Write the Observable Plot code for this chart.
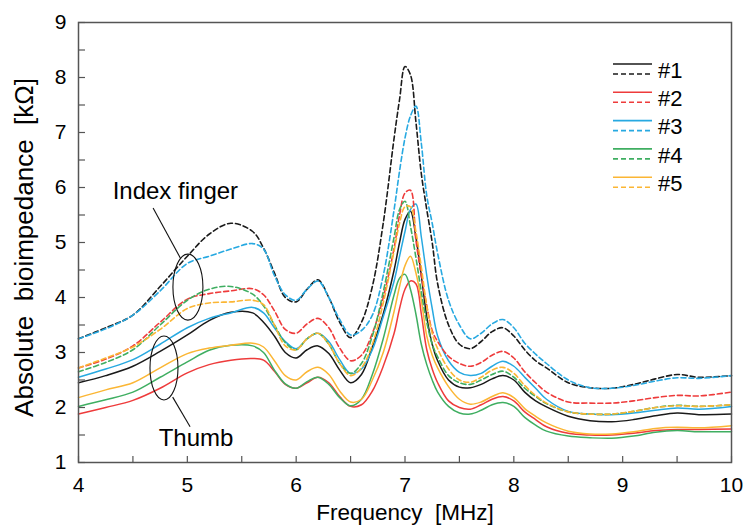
<!DOCTYPE html>
<html>
<head>
<meta charset="utf-8">
<script src="https://cdn.jsdelivr.net/npm/d3@7"></script>
<script src="https://cdn.jsdelivr.net/npm/@observablehq/plot@0.6"></script>
<style>
  html, body { margin: 0; padding: 0; background: #fff; }
  #chart { width: 743px; height: 532px; position: relative; }
  svg { font-family: "Liberation Sans", Arial, sans-serif; }
</style>
</head>
<body>
<div id="chart"></div>
<script>
// Frequency grid (MHz)
const freq = [4.0, 4.25, 4.5, 4.75, 5.0, 5.2, 5.4, 5.6, 5.7, 5.8, 5.9, 6.0, 6.1, 6.2, 6.3, 6.4, 6.5, 6.6, 6.7, 6.8, 6.9, 6.95, 7.0, 7.05, 7.1, 7.15, 7.2, 7.25, 7.3, 7.4, 7.5, 7.6, 7.7, 7.8, 7.9, 8.0, 8.1, 8.2, 8.3, 8.5, 8.7, 8.9, 9.1, 9.3, 9.5, 9.7, 10.0];

// Thumb (solid lines), kΩ
const thumb1 = [2.45, 2.58, 2.75, 3.02, 3.32, 3.58, 3.73, 3.72, 3.55, 3.3, 3.0, 2.9, 3.05, 3.12, 2.98, 2.68, 2.45, 2.6, 3.1, 3.7, 4.5, 5.0, 5.42, 5.57, 5.1, 4.4, 3.65, 3.15, 2.85, 2.5, 2.37, 2.36, 2.42, 2.52, 2.58, 2.5, 2.28, 2.12, 2.01, 1.84, 1.76, 1.74, 1.78, 1.85, 1.9, 1.87, 1.88];
const thumb2 = [1.88, 2.0, 2.13, 2.35, 2.63, 2.78, 2.86, 2.89, 2.86, 2.66, 2.42, 2.35, 2.45, 2.55, 2.45, 2.2, 2.02, 2.05, 2.3, 2.75, 3.35, 3.8, 4.15, 4.3, 4.25, 3.7, 3.05, 2.7, 2.45, 2.12, 2.0, 1.97, 2.05, 2.15, 2.2, 2.12, 1.92, 1.78, 1.65, 1.53, 1.5, 1.5, 1.53, 1.58, 1.6, 1.6, 1.61];
const thumb3 = [2.55, 2.7, 2.87, 3.15, 3.45, 3.62, 3.72, 3.82, 3.72, 3.45, 3.2, 3.07, 3.25, 3.35, 3.2, 2.87, 2.62, 2.7, 3.05, 3.65, 4.3, 4.75, 5.2, 5.6, 5.7, 5.1, 4.4, 3.8, 3.3, 2.85, 2.64, 2.58, 2.62, 2.75, 2.84, 2.75, 2.55, 2.35, 2.15, 1.93, 1.88, 1.87, 1.9, 1.95, 1.99, 1.97, 2.02];
const thumb4 = [2.02, 2.14, 2.28, 2.55, 2.83, 3.04, 3.13, 3.12, 3.0, 2.68, 2.43, 2.35, 2.47, 2.55, 2.42, 2.18, 2.03, 2.15, 2.6, 3.25, 4.05, 4.35, 4.42, 4.15, 3.7, 3.15, 2.78, 2.5, 2.28, 2.02, 1.9, 1.88, 1.95, 2.05, 2.09, 2.02, 1.82, 1.68, 1.57, 1.48, 1.45, 1.44, 1.48, 1.55, 1.58, 1.56, 1.56];
const thumb5 = [2.18, 2.32, 2.45, 2.72, 2.98, 3.08, 3.13, 3.17, 3.1, 2.85, 2.58, 2.5, 2.65, 2.73, 2.6, 2.3, 2.1, 2.15, 2.5, 3.0, 3.75, 4.2, 4.58, 4.75, 4.45, 3.95, 3.3, 2.95, 2.72, 2.38, 2.15, 2.06, 2.1, 2.2, 2.27, 2.18, 1.98, 1.84, 1.72, 1.57, 1.52, 1.52, 1.56, 1.62, 1.64, 1.63, 1.67];

// Index finger (dashed lines), kΩ
const index1 = [3.25, 3.45, 3.68, 4.2, 4.75, 5.15, 5.35, 5.2, 4.9, 4.45, 4.0, 3.92, 4.15, 4.32, 4.0, 3.55, 3.27, 3.55, 4.2, 5.35, 6.9, 7.6, 8.2, 8.05, 7.2, 6.25, 5.6, 5.0, 4.25, 3.5, 3.15, 3.07, 3.2, 3.38, 3.45, 3.3, 3.05, 2.85, 2.72, 2.45, 2.36, 2.35, 2.42, 2.52, 2.6, 2.55, 2.58];
const index2 = [2.72, 2.88, 3.12, 3.55, 3.97, 4.07, 4.12, 4.16, 4.05, 3.76, 3.42, 3.35, 3.52, 3.62, 3.45, 3.08, 2.85, 2.95, 3.35, 4.0, 4.9, 5.5, 5.9, 5.95, 5.05, 4.4, 3.85, 3.4, 3.2, 2.93, 2.8, 2.75, 2.82, 2.95, 3.02, 2.9, 2.65, 2.45, 2.28, 2.1, 2.08, 2.08, 2.12, 2.18, 2.22, 2.21, 2.28];
const index3 = [3.25, 3.43, 3.68, 4.12, 4.62, 4.75, 4.88, 4.98, 4.88, 4.4, 4.05, 3.95, 4.15, 4.3, 4.0, 3.6, 3.32, 3.4, 3.68, 4.4, 5.6, 6.3, 6.9, 7.3, 7.48, 6.8, 5.85, 5.35, 4.8, 3.95, 3.5, 3.25, 3.35, 3.52, 3.6, 3.45, 3.17, 2.97, 2.8, 2.5, 2.36, 2.35, 2.4, 2.48, 2.54, 2.53, 2.58];
const index4 = [2.65, 2.82, 3.05, 3.5, 3.95, 4.15, 4.2, 4.06, 3.85, 3.5, 3.18, 3.05, 3.25, 3.35, 3.15, 2.8, 2.62, 2.8, 3.3, 4.1, 5.1, 5.6, 5.75, 5.3, 4.73, 4.1, 3.55, 3.15, 2.92, 2.58, 2.45, 2.42, 2.5, 2.6, 2.66, 2.55, 2.35, 2.2, 2.07, 1.92, 1.88, 1.88, 1.93, 2.0, 2.04, 2.02, 2.05];
const index5 = [2.72, 2.9, 3.1, 3.42, 3.8, 3.9, 3.92, 3.95, 3.87, 3.5, 3.12, 3.05, 3.25, 3.35, 3.15, 2.8, 2.58, 2.72, 3.15, 3.9, 4.85, 5.35, 5.65, 5.65, 5.2, 4.55, 3.85, 3.35, 3.07, 2.7, 2.5, 2.46, 2.55, 2.68, 2.73, 2.62, 2.4, 2.22, 2.08, 1.92, 1.88, 1.88, 1.93, 2.0, 2.03, 2.02, 2.05];

const subjects = ["#1", "#2", "#3", "#4", "#5"];
const colors = ["#1a1a1a", "#ee3b3b", "#27a9e1", "#3fae61", "#fbb634"];
const thumbSeries = [thumb1, thumb2, thumb3, thumb4, thumb5];
const indexSeries = [index1, index2, index3, index4, index5];

const xTickValues = d3.range(4, 10.001, 0.5);
const yTickValues = d3.range(1, 9.001, 0.5);
const xLabels = [4, 5, 6, 7, 8, 9, 10];
const yLabels = [1, 2, 3, 4, 5, 6, 7, 8, 9];

// Build the long table
const rows = [];
subjects.forEach((s, i) => {
  freq.forEach((f, j) => rows.push({subject: s, finger: "Thumb", f, z: thumbSeries[i][j]}));
  freq.forEach((f, j) => rows.push({subject: s, finger: "Index finger", f, z: indexSeries[i][j]}));
});

const W = 743, H = 532;
const mL = 78, mR = 12, mT = 22, mB = 70;
const plotW = W - mL - mR, plotH = H - mT - mB;

// Annotation overlay (ellipses, leader lines), positioned through the scales
function annotations(index, scales) {
  const g = d3.create("svg:g").attr("fill", "none").attr("stroke", "#111").attr("stroke-width", 1.1);
  const ell = [
    {cx: 5.01, cy: 4.18, rx: 15, ry: 33},
    {cx: 4.79, cy: 2.71, rx: 14, ry: 32}
  ];
  ell.forEach(e => g.append("ellipse")
    .attr("cx", scales.x(e.cx)).attr("cy", scales.y(e.cy))
    .attr("rx", e.rx).attr("ry", e.ry));
  const links = [
    [4.69, 5.62, 4.94, 4.71],
    [4.87, 2.18, 5.03, 1.64]
  ];
  links.forEach(l => g.append("line")
    .attr("x1", scales.x(l[0])).attr("y1", scales.y(l[1]))
    .attr("x2", scales.x(l[2])).attr("y2", scales.y(l[3])));
  return g.node();
}

function legend(index, scales, values, dims) {
  const g = d3.create("svg:g").attr("text-anchor", "start");
  const x0 = dims.width - 130, x1 = x0 + 39, y0 = 64, step = 28.3;
  subjects.forEach((s, i) => {
    const y = y0 + i * step;
    g.append("line").attr("x1", x0).attr("x2", x1).attr("y1", y).attr("y2", y)
      .attr("stroke", colors[i]).attr("stroke-width", 1.6);
    g.append("line").attr("x1", x0).attr("x2", x1).attr("y1", y + 10).attr("y2", y + 10)
      .attr("stroke", colors[i]).attr("stroke-width", 1.6).attr("stroke-dasharray", "5,3");
    g.append("text").attr("x", x1 + 6).attr("y", y + 6).attr("dy", "0.35em")
      .attr("font-size", 22).attr("fill", "#000").attr("text-anchor", "start").text(s);
  });
  return g.node();
}

const chart = Plot.plot({
  width: W,
  height: H,
  marginLeft: mL, marginRight: mR, marginTop: mT, marginBottom: mB,
  style: {fontFamily: "'Liberation Sans', Arial, sans-serif", background: "#fff"},
  x: {domain: [4, 10], axis: null},
  y: {domain: [1, 9], axis: null},
  color: {domain: subjects, range: colors},
  marks: [
    // lines
    Plot.line(rows.filter(d => d.finger === "Thumb"), {
      x: "f", y: "z", z: "subject", stroke: "subject", strokeWidth: 1.5, curve: "catmull-rom"
    }),
    Plot.line(rows.filter(d => d.finger === "Index finger"), {
      x: "f", y: "z", z: "subject", stroke: "subject", strokeWidth: 1.6, strokeDasharray: "5,3", curve: "catmull-rom"
    }),
    // inward ticks
    Plot.tickX(xTickValues, {x: d => d, insetTop: plotH - 6, stroke: "#555", strokeWidth: 1.2}),
    Plot.tickY(yTickValues, {y: d => d, insetRight: plotW - 7, stroke: "#555", strokeWidth: 1.2}),
    Plot.frame({stroke: "#555", strokeWidth: 1.5}),
    // tick labels
    Plot.text(xLabels, {x: d => d, frameAnchor: "bottom", dy: 29, text: d => String(d), fontSize: 21, fill: "#000"}),
    Plot.text(yLabels, {y: d => d, frameAnchor: "left", dx: -12, textAnchor: "end", text: d => String(d), fontSize: 21, fill: "#000"}),
    // axis titles
    Plot.text(["Frequency  [MHz]"], {frameAnchor: "bottom", dy: 57, textAnchor: "middle", fontSize: 22.5, fill: "#000"}),
    Plot.text(["Absolute  bioimpedance  [kΩ]"], {frameAnchor: "left", dx: -54, dy: 5, textAnchor: "middle", rotate: -90, fontSize: 26, fill: "#000"}),
    // annotations
    Plot.text(["Index finger"], {x: 4.89, y: 5.93, fontSize: 24, fill: "#000"}),
    Plot.text(["Thumb"], {x: 5.08, y: 1.44, fontSize: 24, fill: "#000"}),
    annotations,
    legend
  ]
});

document.getElementById("chart").appendChild(chart);
</script>
</body>
</html>
